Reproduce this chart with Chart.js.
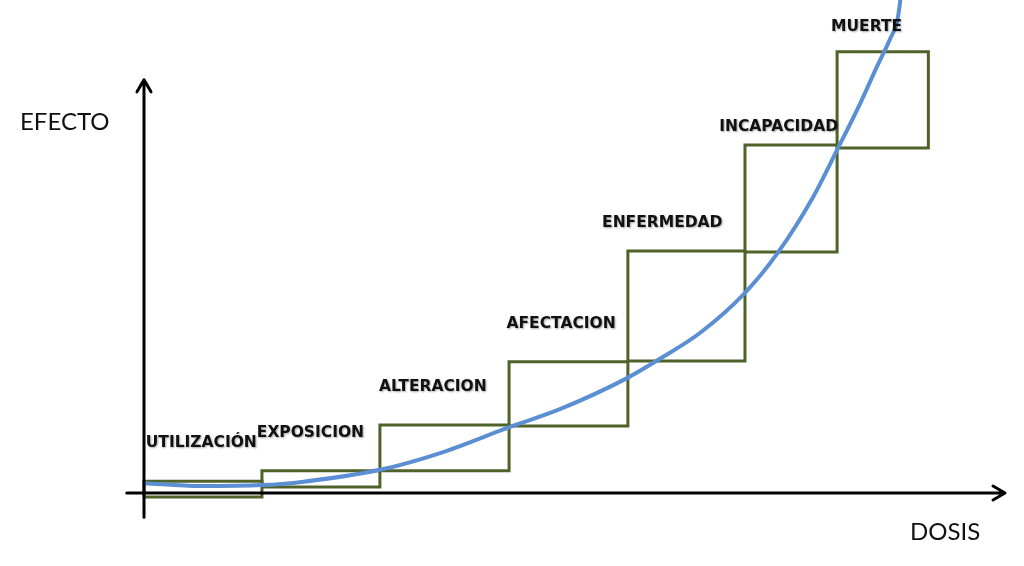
<!DOCTYPE html>
<html>
<head>
<meta charset="utf-8">
<script src="https://cdn.jsdelivr.net/npm/chart.js@4"></script>
<style>
  html, body { margin: 0; padding: 0; background: #fff; }
  #wrap { width: 1024px; height: 566px; position: relative; }
</style>
</head>
<body>
<div id="wrap"><canvas id="chart"></canvas></div>
<script>
// Stages of dose / effect
const stages = ["UTILIZACIÓN", "EXPOSICION", "ALTERACION", "AFECTACION", "ENFERMEDAD", "INCAPACIDAD", "MUERTE"];
// box edges on the dose axis (0-100)
const doseEdges = [0, 13.7, 27.4, 42.4, 56.2, 69.8, 80.5, 91.1];
// box bottom / top on the effect axis (0-100)
const effectLow = [-0.8, 1.2, 4.5, 13.6, 26.8, 48.9, 70.0];
const effectHigh = [2.4, 4.5, 13.8, 26.6, 49.1, 70.6, 89.5];
// where each stage name sits
const labelDose = [0.2, 13.1, 27.3, 42.1, 53.2, 66.8, 79.8];
const labelEffect = [10.1, 12.2, 21.5, 34.3, 54.8, 74.2, 94.5];

// dose-response curve
const curveDose = [0, 6.5, 13.7, 18.1, 27.4, 34.4, 42.5, 48.3, 56.1, 59.9, 64.6, 69.8, 73.6, 77.7, 80.5, 83.2, 85.1, 86.6, 87.5, 87.8, 87.9];
const curveEffect = [2.0, 1.4, 1.6, 2.2, 4.7, 8.1, 13.4, 17.0, 23.3, 27.2, 32.5, 40.6, 48.7, 60.0, 69.6, 79.1, 86.4, 91.9, 95.9, 99.4, 101];

// axes (arrows)
const xAxisDose = [-2.0, 100];
const yAxisEffect = [-4.9, 83.8];

const boxSets = stages.map((s, i) => ({
  label: s,
  data: [
    { x: doseEdges[i], y: effectLow[i] },
    { x: doseEdges[i + 1], y: effectLow[i] },
    { x: doseEdges[i + 1], y: effectHigh[i] },
    { x: doseEdges[i], y: effectHigh[i] },
    { x: doseEdges[i], y: effectLow[i] },
  ],
  borderColor: "#4f6228",
  borderWidth: 3,
  pointRadius: 0,
  fill: false,
  tension: 0,
  order: 1,
}));

const curveSet = {
  label: "curva",
  data: curveDose.map((d, i) => ({ x: d, y: curveEffect[i] })),
  borderColor: "#5b8fd3",
  borderWidth: 4,
  pointRadius: 0,
  fill: false,
  cubicInterpolationMode: "monotone",
  order: 0,
};

const axesPlugin = {
  id: "axesPlugin",
  afterDatasetsDraw(chart) {
    const ctx = chart.ctx;
    const xs = chart.scales.x;
    const ys = chart.scales.y;
    const x0 = xs.getPixelForValue(0);
    const y0 = ys.getPixelForValue(0);

    ctx.save();
    ctx.strokeStyle = "#000";
    ctx.lineWidth = 3;
    ctx.lineCap = "round";
    ctx.lineJoin = "round";

    // x axis
    const xa = xs.getPixelForValue(xAxisDose[0]);
    const xb = xs.getPixelForValue(xAxisDose[1]);
    ctx.beginPath();
    ctx.moveTo(xa, y0);
    ctx.lineTo(xb, y0);
    ctx.moveTo(xb - 12, y0 - 7);
    ctx.lineTo(xb, y0);
    ctx.lineTo(xb - 12, y0 + 7);
    ctx.stroke();

    // y axis
    const ya = ys.getPixelForValue(yAxisEffect[0]);
    const yb = ys.getPixelForValue(yAxisEffect[1]);
    ctx.beginPath();
    ctx.moveTo(x0, ya);
    ctx.lineTo(x0, yb);
    ctx.moveTo(x0 - 7, yb + 12);
    ctx.lineTo(x0, yb);
    ctx.lineTo(x0 + 7, yb + 12);
    ctx.stroke();

    // axis titles
    ctx.fillStyle = "#111";
    ctx.font = "24px Lato, 'Open Sans', sans-serif";
    ctx.textBaseline = "middle";
    ctx.textAlign = "left";
    ctx.fillText("EFECTO", 20, 122);
    ctx.fillText("DOSIS", 910, 532);

    // stage names
    ctx.font = "bold 15.5px 'DejaVu Sans', sans-serif";
    ctx.shadowColor = "rgba(0,0,0,0.35)";
    ctx.shadowBlur = 2;
    ctx.shadowOffsetX = 1;
    ctx.shadowOffsetY = 1;
    stages.forEach((s, i) => {
      ctx.fillText(s, xs.getPixelForValue(labelDose[i]), ys.getPixelForValue(labelEffect[i]));
    });
    ctx.restore();
  },
};

const config = {
  type: "line",
  data: { datasets: [curveSet, ...boxSets] },
  options: {
    responsive: true,
    maintainAspectRatio: false,
    animation: false,
    clip: false,
    layout: { padding: { left: 144, right: 19, top: 0, bottom: 73 } },
    plugins: {
      legend: { display: false },
      tooltip: { enabled: false },
    },
    scales: {
      x: { type: "linear", min: 0, max: 100, display: false },
      y: { type: "linear", min: 0, max: 100, display: false },
    },
  },
  plugins: [axesPlugin],
};

const doseChart = new Chart(document.getElementById("chart"), config);
</script>
</body>
</html>
